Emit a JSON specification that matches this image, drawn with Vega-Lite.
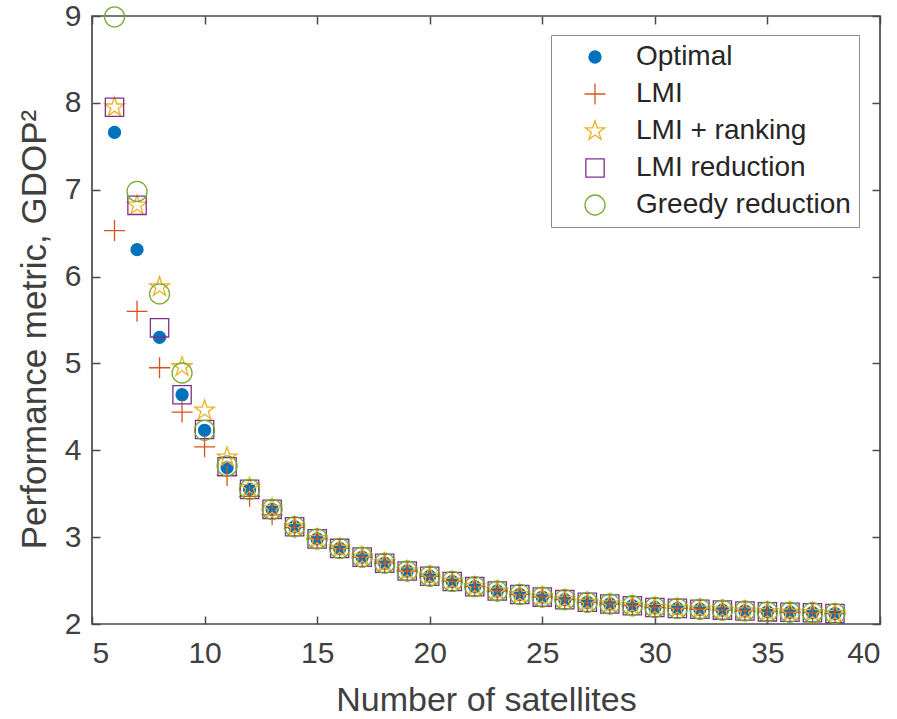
{
  "$schema": "https://vega.github.io/schema/vega-lite/v6.json",
  "width": 788,
  "height": 608,
  "autosize": {"type": "none"},
  "padding": {"left": 92, "top": 16, "right": 17, "bottom": 95},
  "background": "white",
  "config": {
    "view": {"stroke": "#4a4a4a", "strokeWidth": 1.7},
    "font": "Liberation Sans",
    "axis": {
      "labelFont": "Liberation Sans",
      "labelFontSize": 30,
      "labelColor": "#404040",
      "titleFont": "Liberation Sans",
      "titleFontSize": 34,
      "titleFontWeight": "normal",
      "titleColor": "#404040",
      "tickColor": "#4a4a4a",
      "tickWidth": 1.5,
      "tickSize": -8,
      "domain": false,
      "grid": false
    },
    "legend": {
      "labelFont": "Liberation Sans",
      "labelFontSize": 28,
      "labelColor": "#262626",
      "labelLimit": 400,
      "padding": 8,
      "rowPadding": 9,
      "symbolOffset": 22,
      "labelOffset": 27,
      "strokeColor": "#8c8c8c",
      "fillColor": "white",
      "symbolStrokeWidth": 1.3
    }
  },
  "data": {
    "values": [
      {"n": 6, "s": "Optimal", "v": 7.66}, {"n": 7, "s": "Optimal", "v": 6.31}, {"n": 8, "s": "Optimal", "v": 5.30}, {"n": 9, "s": "Optimal", "v": 4.64}, {"n": 10, "s": "Optimal", "v": 4.23}, {"n": 11, "s": "Optimal", "v": 3.80}, {"n": 12, "s": "Optimal", "v": 3.55}, {"n": 13, "s": "Optimal", "v": 3.32}, {"n": 14, "s": "Optimal", "v": 3.12}, {"n": 15, "s": "Optimal", "v": 2.98}, {"n": 16, "s": "Optimal", "v": 2.87}, {"n": 17, "s": "Optimal", "v": 2.77}, {"n": 18, "s": "Optimal", "v": 2.70}, {"n": 19, "s": "Optimal", "v": 2.61}, {"n": 20, "s": "Optimal", "v": 2.55}, {"n": 21, "s": "Optimal", "v": 2.49}, {"n": 22, "s": "Optimal", "v": 2.43}, {"n": 23, "s": "Optimal", "v": 2.38}, {"n": 24, "s": "Optimal", "v": 2.34}, {"n": 25, "s": "Optimal", "v": 2.31}, {"n": 26, "s": "Optimal", "v": 2.28}, {"n": 27, "s": "Optimal", "v": 2.25}, {"n": 28, "s": "Optimal", "v": 2.23}, {"n": 29, "s": "Optimal", "v": 2.21}, {"n": 30, "s": "Optimal", "v": 2.19}, {"n": 31, "s": "Optimal", "v": 2.18}, {"n": 32, "s": "Optimal", "v": 2.17}, {"n": 33, "s": "Optimal", "v": 2.16}, {"n": 34, "s": "Optimal", "v": 2.15}, {"n": 35, "s": "Optimal", "v": 2.14}, {"n": 36, "s": "Optimal", "v": 2.135}, {"n": 37, "s": "Optimal", "v": 2.13}, {"n": 38, "s": "Optimal", "v": 2.12},
      {"n": 6, "s": "LMI", "v": 6.53}, {"n": 7, "s": "LMI", "v": 5.60}, {"n": 8, "s": "LMI", "v": 4.95}, {"n": 9, "s": "LMI", "v": 4.44}, {"n": 10, "s": "LMI", "v": 4.04}, {"n": 11, "s": "LMI", "v": 3.71}, {"n": 12, "s": "LMI", "v": 3.47}, {"n": 13, "s": "LMI", "v": 3.26}, {"n": 14, "s": "LMI", "v": 3.11}, {"n": 15, "s": "LMI", "v": 2.98}, {"n": 16, "s": "LMI", "v": 2.87}, {"n": 17, "s": "LMI", "v": 2.77}, {"n": 18, "s": "LMI", "v": 2.70}, {"n": 19, "s": "LMI", "v": 2.61}, {"n": 20, "s": "LMI", "v": 2.55}, {"n": 21, "s": "LMI", "v": 2.49}, {"n": 22, "s": "LMI", "v": 2.43}, {"n": 23, "s": "LMI", "v": 2.38}, {"n": 24, "s": "LMI", "v": 2.34}, {"n": 25, "s": "LMI", "v": 2.31}, {"n": 26, "s": "LMI", "v": 2.28}, {"n": 27, "s": "LMI", "v": 2.25}, {"n": 28, "s": "LMI", "v": 2.23}, {"n": 29, "s": "LMI", "v": 2.21}, {"n": 30, "s": "LMI", "v": 2.19}, {"n": 31, "s": "LMI", "v": 2.18}, {"n": 32, "s": "LMI", "v": 2.17}, {"n": 33, "s": "LMI", "v": 2.16}, {"n": 34, "s": "LMI", "v": 2.15}, {"n": 35, "s": "LMI", "v": 2.14}, {"n": 36, "s": "LMI", "v": 2.135}, {"n": 37, "s": "LMI", "v": 2.13}, {"n": 38, "s": "LMI", "v": 2.12},
      {"n": 6, "s": "LMI + ranking", "v": 7.95}, {"n": 7, "s": "LMI + ranking", "v": 6.82}, {"n": 8, "s": "LMI + ranking", "v": 5.88}, {"n": 9, "s": "LMI + ranking", "v": 4.96}, {"n": 10, "s": "LMI + ranking", "v": 4.46}, {"n": 11, "s": "LMI + ranking", "v": 3.92}, {"n": 12, "s": "LMI + ranking", "v": 3.57}, {"n": 13, "s": "LMI + ranking", "v": 3.33}, {"n": 14, "s": "LMI + ranking", "v": 3.12}, {"n": 15, "s": "LMI + ranking", "v": 2.98}, {"n": 16, "s": "LMI + ranking", "v": 2.87}, {"n": 17, "s": "LMI + ranking", "v": 2.77}, {"n": 18, "s": "LMI + ranking", "v": 2.70}, {"n": 19, "s": "LMI + ranking", "v": 2.61}, {"n": 20, "s": "LMI + ranking", "v": 2.55}, {"n": 21, "s": "LMI + ranking", "v": 2.49}, {"n": 22, "s": "LMI + ranking", "v": 2.43}, {"n": 23, "s": "LMI + ranking", "v": 2.38}, {"n": 24, "s": "LMI + ranking", "v": 2.34}, {"n": 25, "s": "LMI + ranking", "v": 2.31}, {"n": 26, "s": "LMI + ranking", "v": 2.28}, {"n": 27, "s": "LMI + ranking", "v": 2.25}, {"n": 28, "s": "LMI + ranking", "v": 2.23}, {"n": 29, "s": "LMI + ranking", "v": 2.21}, {"n": 30, "s": "LMI + ranking", "v": 2.19}, {"n": 31, "s": "LMI + ranking", "v": 2.18}, {"n": 32, "s": "LMI + ranking", "v": 2.17}, {"n": 33, "s": "LMI + ranking", "v": 2.16}, {"n": 34, "s": "LMI + ranking", "v": 2.15}, {"n": 35, "s": "LMI + ranking", "v": 2.14}, {"n": 36, "s": "LMI + ranking", "v": 2.135}, {"n": 37, "s": "LMI + ranking", "v": 2.13}, {"n": 38, "s": "LMI + ranking", "v": 2.12},
      {"n": 6, "s": "LMI reduction", "v": 7.95}, {"n": 7, "s": "LMI reduction", "v": 6.82}, {"n": 8, "s": "LMI reduction", "v": 5.41}, {"n": 9, "s": "LMI reduction", "v": 4.64}, {"n": 10, "s": "LMI reduction", "v": 4.24}, {"n": 11, "s": "LMI reduction", "v": 3.81}, {"n": 12, "s": "LMI reduction", "v": 3.55}, {"n": 13, "s": "LMI reduction", "v": 3.32}, {"n": 14, "s": "LMI reduction", "v": 3.12}, {"n": 15, "s": "LMI reduction", "v": 2.98}, {"n": 16, "s": "LMI reduction", "v": 2.87}, {"n": 17, "s": "LMI reduction", "v": 2.77}, {"n": 18, "s": "LMI reduction", "v": 2.70}, {"n": 19, "s": "LMI reduction", "v": 2.61}, {"n": 20, "s": "LMI reduction", "v": 2.55}, {"n": 21, "s": "LMI reduction", "v": 2.49}, {"n": 22, "s": "LMI reduction", "v": 2.43}, {"n": 23, "s": "LMI reduction", "v": 2.38}, {"n": 24, "s": "LMI reduction", "v": 2.34}, {"n": 25, "s": "LMI reduction", "v": 2.31}, {"n": 26, "s": "LMI reduction", "v": 2.28}, {"n": 27, "s": "LMI reduction", "v": 2.25}, {"n": 28, "s": "LMI reduction", "v": 2.23}, {"n": 29, "s": "LMI reduction", "v": 2.21}, {"n": 30, "s": "LMI reduction", "v": 2.19}, {"n": 31, "s": "LMI reduction", "v": 2.18}, {"n": 32, "s": "LMI reduction", "v": 2.17}, {"n": 33, "s": "LMI reduction", "v": 2.16}, {"n": 34, "s": "LMI reduction", "v": 2.15}, {"n": 35, "s": "LMI reduction", "v": 2.14}, {"n": 36, "s": "LMI reduction", "v": 2.135}, {"n": 37, "s": "LMI reduction", "v": 2.13}, {"n": 38, "s": "LMI reduction", "v": 2.12},
      {"n": 6, "s": "Greedy reduction", "v": 8.99}, {"n": 7, "s": "Greedy reduction", "v": 6.98}, {"n": 8, "s": "Greedy reduction", "v": 5.80}, {"n": 9, "s": "Greedy reduction", "v": 4.89}, {"n": 10, "s": "Greedy reduction", "v": 4.23}, {"n": 11, "s": "Greedy reduction", "v": 3.82}, {"n": 12, "s": "Greedy reduction", "v": 3.55}, {"n": 13, "s": "Greedy reduction", "v": 3.32}, {"n": 14, "s": "Greedy reduction", "v": 3.12}, {"n": 15, "s": "Greedy reduction", "v": 2.98}, {"n": 16, "s": "Greedy reduction", "v": 2.87}, {"n": 17, "s": "Greedy reduction", "v": 2.77}, {"n": 18, "s": "Greedy reduction", "v": 2.70}, {"n": 19, "s": "Greedy reduction", "v": 2.61}, {"n": 20, "s": "Greedy reduction", "v": 2.55}, {"n": 21, "s": "Greedy reduction", "v": 2.49}, {"n": 22, "s": "Greedy reduction", "v": 2.43}, {"n": 23, "s": "Greedy reduction", "v": 2.38}, {"n": 24, "s": "Greedy reduction", "v": 2.34}, {"n": 25, "s": "Greedy reduction", "v": 2.31}, {"n": 26, "s": "Greedy reduction", "v": 2.28}, {"n": 27, "s": "Greedy reduction", "v": 2.25}, {"n": 28, "s": "Greedy reduction", "v": 2.23}, {"n": 29, "s": "Greedy reduction", "v": 2.21}, {"n": 30, "s": "Greedy reduction", "v": 2.19}, {"n": 31, "s": "Greedy reduction", "v": 2.18}, {"n": 32, "s": "Greedy reduction", "v": 2.17}, {"n": 33, "s": "Greedy reduction", "v": 2.16}, {"n": 34, "s": "Greedy reduction", "v": 2.15}, {"n": 35, "s": "Greedy reduction", "v": 2.14}, {"n": 36, "s": "Greedy reduction", "v": 2.135}, {"n": 37, "s": "Greedy reduction", "v": 2.13}, {"n": 38, "s": "Greedy reduction", "v": 2.12}
    ]
  },
  "resolve": {"axis": {"x": "independent", "y": "independent"}},
  "layer": [
    {
      "mark": {"type": "point", "opacity": 1, "strokeWidth": 1.3, "clip": false},
      "encoding": {
        "x": {
          "field": "n", "type": "quantitative",
          "scale": {"domain": [5, 40], "nice": false, "zero": false},
          "axis": {"orient": "bottom", "values": [5, 10, 15, 20, 25, 30, 35, 40], "labelPadding": 22, "title": "Number of satellites", "titleBaseline": "alphabetic", "titleY": 86, "titleX": 394}
        },
        "y": {
          "field": "v", "type": "quantitative",
          "scale": {"domain": [2, 9], "nice": false, "zero": false},
          "axis": {"orient": "left", "values": [2, 3, 4, 5, 6, 7, 8, 9], "labelPadding": 19, "title": "Performance metric, GDOP²", "titleFontSize": 35, "titleAngle": -90, "titleBaseline": "alphabetic", "titleX": -47, "titleY": 313}
        },
        "stroke": {
          "field": "s", "type": "nominal",
          "scale": {"domain": ["Optimal", "LMI", "LMI + ranking", "LMI reduction", "Greedy reduction"], "range": ["#0072BD", "#D95319", "#EDB120", "#7E2F8E", "#77AC30"]},
          "legend": {"title": null, "orient": "none", "legendX": 459, "legendY": 19}
        },
        "fill": {
          "field": "s", "type": "nominal",
          "scale": {"domain": ["Optimal", "LMI", "LMI + ranking", "LMI reduction", "Greedy reduction"], "range": ["#0072BD", "transparent", "transparent", "transparent", "transparent"]},
          "legend": {"title": null, "orient": "none", "legendX": 459, "legendY": 19}
        },
        "shape": {
          "field": "s", "type": "nominal",
          "scale": {"domain": ["Optimal", "LMI", "LMI + ranking", "LMI reduction", "Greedy reduction"], "range": ["circle", "M-1.45,0L1.45,0M0,-1.45L0,1.45", "M0,-1.25L0.281,-0.386L1.189,-0.386L0.454,0.148L0.735,1.011L0,0.478L-0.735,1.011L-0.454,0.148L-1.189,-0.386L-0.281,-0.386Z", "square", "circle"]},
          "legend": {"title": null, "orient": "none", "legendX": 459, "legendY": 19}
        },
        "size": {
          "field": "s", "type": "nominal",
          "scale": {"domain": ["Optimal", "LMI", "LMI + ranking", "LMI reduction", "Greedy reduction"], "range": [144, 400, 460, 270, 400]},
          "legend": {"title": null, "orient": "none", "legendX": 459, "legendY": 19}
        }
      }
    },
    {
      "mark": {"type": "point", "opacity": 0},
      "encoding": {
        "x": {
          "field": "n", "type": "quantitative",
          "scale": {"domain": [5, 40], "nice": false, "zero": false},
          "axis": {"orient": "top", "values": [5, 10, 15, 20, 25, 30, 35, 40], "labels": false, "title": null}
        },
        "y": {
          "field": "v", "type": "quantitative",
          "scale": {"domain": [2, 9], "nice": false, "zero": false},
          "axis": {"orient": "right", "values": [2, 3, 4, 5, 6, 7, 8, 9], "labels": false, "title": null}
        }
      }
    }
  ]
}
